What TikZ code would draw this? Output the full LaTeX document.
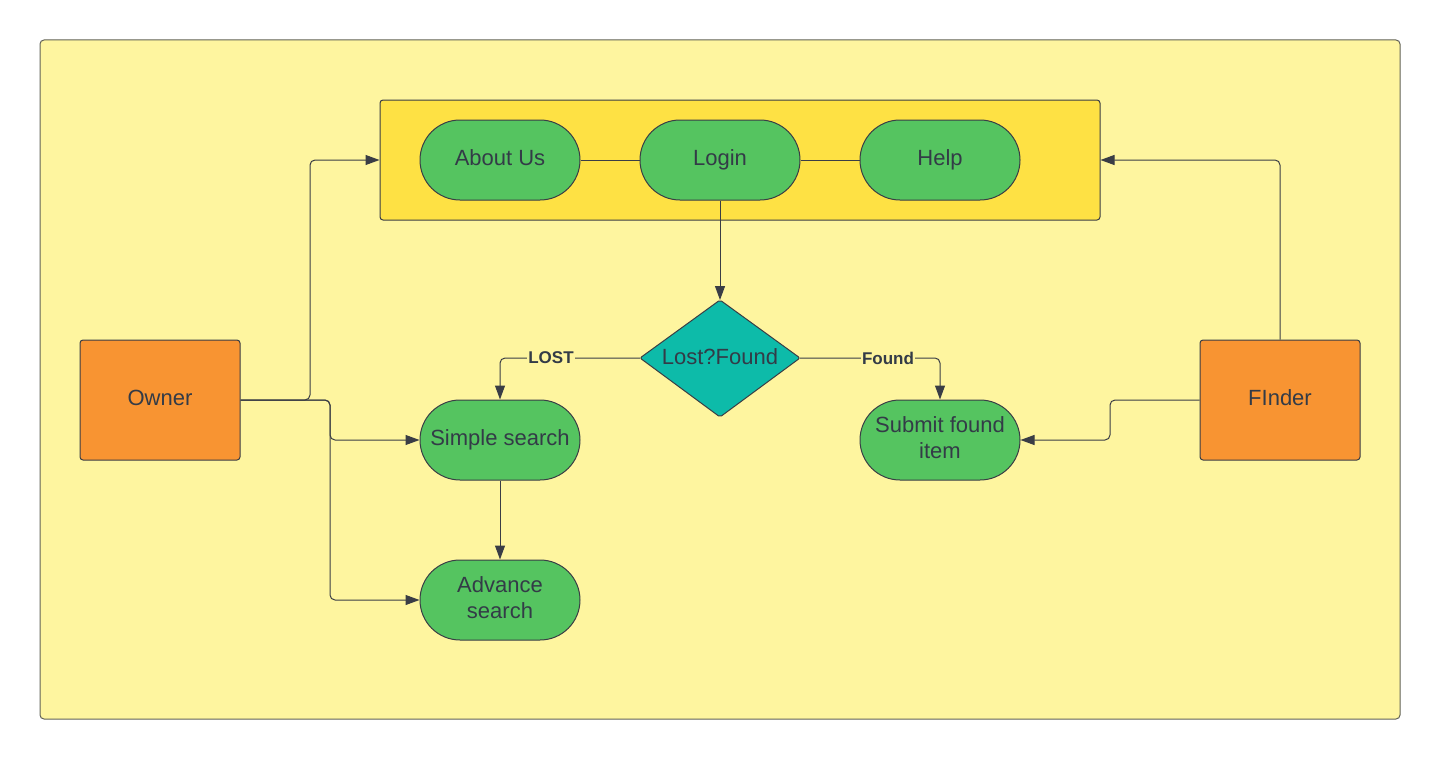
\documentclass[tikz,border=0pt]{standalone}
\usepackage{fontspec}
\setmainfont{Liberation Sans}
\usetikzlibrary{arrows.meta}
\definecolor{canvas}{HTML}{FEF59F}
\definecolor{barfill}{HTML}{FEE144}
\definecolor{pillgreen}{HTML}{55C460}
\definecolor{decteal}{HTML}{0DBBA9}
\definecolor{actororange}{HTML}{F89432}
\definecolor{ink}{HTML}{333B47}
\definecolor{edge}{HTML}{3A3D45}
\tikzset{
  pill/.style={draw=edge, line width=1pt, fill=pillgreen, rounded corners=40pt,
    minimum width=160pt, minimum height=80pt, inner sep=0pt},
  % two-line captions
  caption/.style={text=ink, align=center, inner sep=0pt, yshift=2.5pt,
    font=\fontsize{22}{26}\selectfont},
  % one-line captions, with a fixed height and depth so all sit alike
  caption1/.style={caption, yshift=-5.5pt, text height=0.72em, text depth=0.2em},
  actor/.style={draw=edge, line width=1pt, fill=actororange, rounded corners=3pt,
    minimum width=160pt, minimum height=120pt, inner sep=0pt},
  conn/.style={draw=edge, line width=1pt, rounded corners=5pt},
  arr/.style={conn, -{Triangle[length=14pt,width=10pt]}},
  tag/.style={fill=canvas, inner sep=1pt, text=ink, font=\bfseries\fontsize{17}{19}\selectfont},
}
\begin{document}
\begin{tikzpicture}[x=1pt, y=-1pt]
\useasboundingbox (0,0) rectangle (1440,760);
% canvas
\draw[draw=edge!80!canvas, line width=1pt, fill=canvas, rounded corners=4pt] (40,40) rectangle (1400,719);
% top navigation bar
\node[draw=edge, line width=1pt, fill=barfill, rounded corners=3pt, minimum width=720pt,
  minimum height=120pt, inner sep=0pt] (bar) at (740,160) {};
\node[pill, label={[caption1]center:About Us}] (about) at (500,160) {};
\node[pill, label={[caption1]center:Login}] (login) at (720,160) {};
\node[pill, label={[caption1]center:Help}] (help) at (940,160) {};
\draw[conn] (about.east) -- (login.west);
\draw[conn] (login.east) -- (help.west);
% decision
\coordinate (dtop) at (720,300);
\coordinate (dright) at (800,358);
\coordinate (dbot) at (720,417);
\coordinate (dleft) at (640,358);
\draw[draw=edge, line width=1pt, fill=decteal, rounded corners=2pt] (dtop) -- (dright) -- (dbot) -- (dleft) -- cycle;
\node[caption1, yshift=-1pt] (dec) at (720,358) {Lost?Found};
% actors
\node[actor, label={[caption1]center:Owner}] (owner) at (160,400) {};
\node[actor, label={[caption1]center:FInder}] (finder) at (1280,400) {};
% actions
\node[pill, label={[caption1]center:Simple search}] (simple) at (500,440) {};
\node[pill, label={[caption]center:Advance\\search}] (advance) at (500,600) {};
\node[pill, label={[caption]center:Submit found\\item}] (submit) at (940,440) {};
% flow
\draw[arr] (login.south) -- (dtop);
\draw[arr] (dleft) -- (500,358) -- (simple.north);
\node[tag] (lostlbl) at (551,358) {LOST};
\draw[arr] (dright) -- (940,358) -- (submit.north);
\node[tag] (foundlbl) at (888,358) {Found};
\draw[arr] (simple.south) -- (advance.north);
\draw[arr] (owner.east) -- (310,400) -- (310,160) -- (bar.west);
\draw[arr] (owner.east) -- (330,400) -- (330,440) -- (simple.west);
\draw[arr] (owner.east) -- (330,400) -- (330,600) -- (advance.west);
\draw[arr] (finder.north) -- (1280,160) -- (bar.east);
\draw[arr] (finder.west) -- (1110,400) -- (1110,440) -- (submit.east);
\end{tikzpicture}
\end{document}
